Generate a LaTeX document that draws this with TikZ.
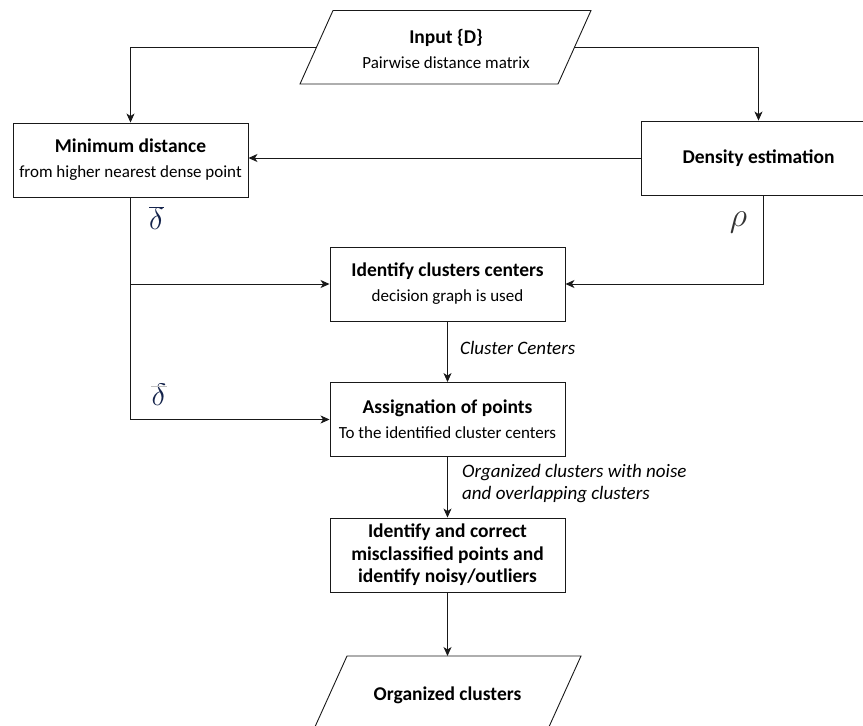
\RequirePackage{fix-cm}
\documentclass[tikz,border=0pt]{standalone}
\usepackage{fontspec}
\setmainfont{Carlito}
\usetikzlibrary{arrows.meta}
\definecolor{lncol}{RGB}{25,25,25}
\definecolor{symcol}{RGB}{20,35,75}
\newcommand{\boxttl}[1]{{\bfseries\fontsize{19.5}{25}\selectfont #1}}
\begin{document}
\begin{tikzpicture}[x=1pt,y=-1pt,
  box/.style={draw=lncol,line width=0.9pt,minimum width=235pt,minimum height=74pt,
    align=center,inner sep=0pt,font=\fontsize{17}{25}\selectfont},
  plain/.style={inner sep=0pt,align=center,font=\fontsize{17}{25}\selectfont},
  lbl/.style={inner sep=0pt,align=left,anchor=west,font=\itshape\fontsize{19}{22}\selectfont},
  sym/.style={inner sep=0pt,text=symcol,font=\fontsize{31}{31}\selectfont},
  conn/.style={draw=lncol,line width=0.9pt},
  arr/.style={conn,-{Stealth[length=9pt,width=8pt,inset=2.5pt]}}]
\useasboundingbox (0,0) rectangle (863,726);
\begin{scope}
\clip (0,0) rectangle (863,726);
% top parallelogram
\draw[conn] (333,10.5) -- (591,10.5) -- (558,84) -- (300,84) -- cycle;
\node[plain] (inp) at (446,49) {\boxttl{Input \{D\}}\\Pairwise distance matrix};
\coordinate (inL) at (316.3,47.5);
\coordinate (inR) at (574.5,47.5);
% boxes
\node[box] (minb) at (130.5,160) {\boxttl{Minimum distance}\\from higher nearest dense point};
\node[box] (dens) at (758.5,158) {\boxttl{Density estimation}};
\node[box] (idc) at (447.5,284) {\boxttl{Identify clusters centers}\\decision graph is used};
\node[box] (asg) at (447.5,419.5) {\boxttl{Assignation of points}\\To the identified cluster centers};
\node[box,font=\bfseries\fontsize{19.5}{22.5}\selectfont] (mis) at (447.5,555) {Identify and correct\\misclassified points and\\identify noisy/outliers};
% bottom parallelogram
\draw[conn] (347,656) -- (581,656) -- (548,729) -- (314,729) -- cycle;
\coordinate (outT) at (447.5,656);
\node[plain] (outp) at (447.5,695) {\boxttl{Organized clusters}};
\end{scope}
% connectors
\draw[arr] (inL) -| (minb.north);
\draw[arr] (inR) -| (dens.north);
\draw[arr] (dens.west) -- (dens.west -| minb.east);
\coordinate (rhoS) at ([xshift=4.5pt]dens.south);
\draw[arr] (rhoS) |- (idc.east);
\draw[arr] (minb.south) |- (asg.west);
\draw[arr] (minb.south |- idc.west) -- (idc.west);
\draw[arr] (idc.south) -- (asg.north);
\draw[arr] (asg.south) -- (mis.north);
\draw[arr] (mis.south) -- (outT);
% labels
\node[sym] (d1) at (156.5,218) {$\overline{\delta}$};
\node[sym] (d2) at (159,395) {$\delta$};
\draw[black!25,line width=0.6pt] ([yshift=-2pt]d2.north west) -- ([yshift=-2pt]d2.north east);
\node[inner sep=0pt,text=black!80,font=\fontsize{34}{34}\selectfont] (rho) at (738.5,222) {$\rho$};
\node[lbl] (cc) at (460,348) {Cluster Centers};
\node[lbl] (oc) at (462,484) {Organized clusters with noise\\and overlapping clusters};
\end{tikzpicture}
\end{document}
